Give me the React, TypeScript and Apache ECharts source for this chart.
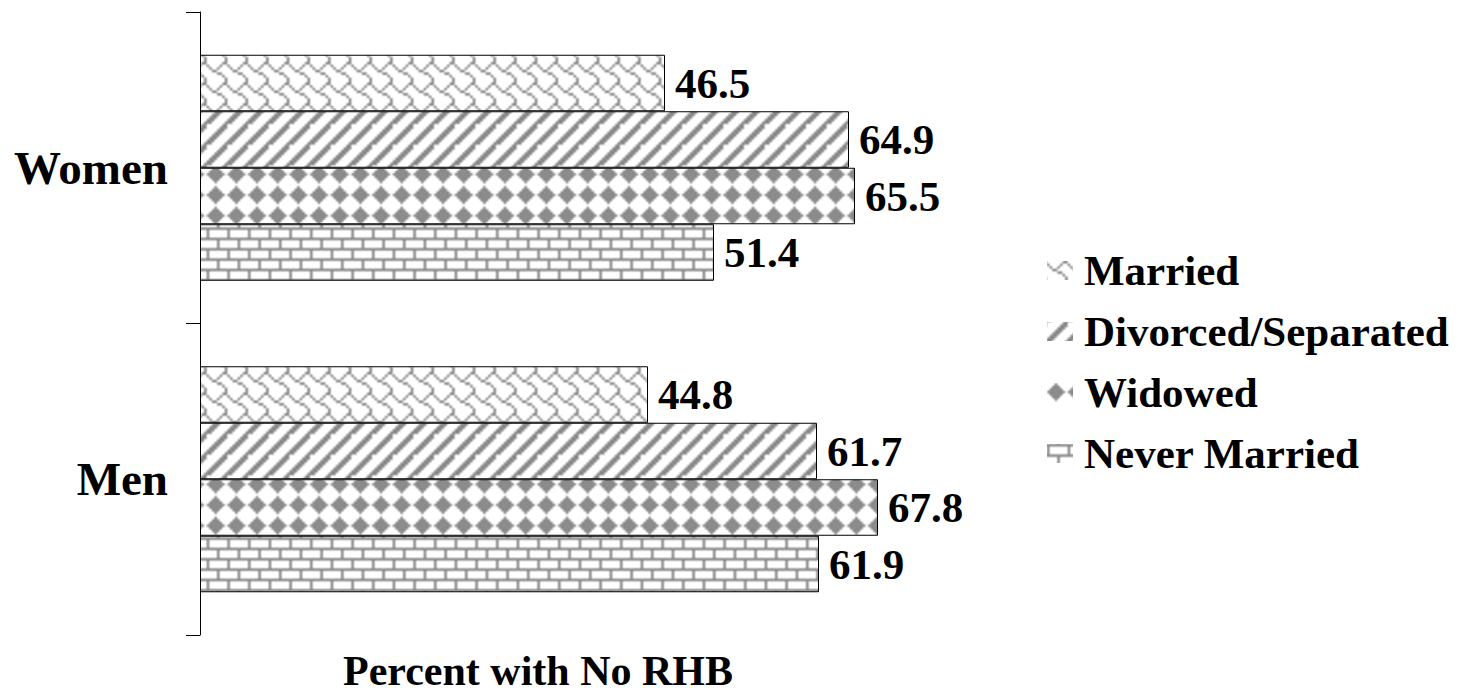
import React, { useEffect, useRef } from "react";
import * as echarts from "echarts";

const categories = ["Women", "Men"];
const seriesNames = ["Married", "Divorced/Separated", "Widowed", "Never Married"];
const married = [46.5, 44.8];
const divorced = [64.9, 61.7];
const widowed = [65.5, 67.8];
const neverMarried = [51.4, 61.9];
const seriesValues = [married, divorced, widowed, neverMarried];
const axisTitle = "Percent with No RHB";

// 8x8 hatch bitmaps (MSB = left column)
const shingleBits = [0x03, 0x84, 0x48, 0x30, 0x0c, 0x02, 0x01, 0x01];
const wideUpDiagBits = [0x03, 0x07, 0x0e, 0x1c, 0x38, 0x70, 0xe0, 0xc1];
const solidDiamondBits = [0x10, 0x38, 0x7c, 0xfe, 0x7c, 0x38, 0x10, 0x00];
const horizBrickBits = [0xff, 0x80, 0x80, 0x80, 0xff, 0x08, 0x08, 0x08];
const patternBits = [shingleBits, wideUpDiagBits, solidDiamondBits, horizBrickBits];

const FONT = "'Liberation Serif', 'Times New Roman', serif";

function makePattern(bits: number[]) {
  const n = 8;
  const src = document.createElement("canvas");
  src.width = 8 * n;
  src.height = 8 * n;
  const sctx = src.getContext("2d")!;
  sctx.fillStyle = "#ffffff";
  sctx.fillRect(0, 0, src.width, src.height);
  sctx.fillStyle = "rgb(140,140,140)";
  for (let ty = 0; ty < n; ty++) {
    for (let tx = 0; tx < n; tx++) {
      for (let r = 0; r < 8; r++) {
        for (let c = 0; c < 8; c++) {
          if (bits[r] & (0x80 >> c)) {
            sctx.fillRect(tx * 8 + c, ty * 8 + r, 1, 1);
          }
        }
      }
    }
  }
  const size = 124; // 6 tiles of ~20.67px
  const scale = size / 48;
  const out = document.createElement("canvas");
  out.width = size;
  out.height = size;
  const octx = out.getContext("2d")!;
  octx.imageSmoothingEnabled = true;
  (octx as any).imageSmoothingQuality = "high";
  octx.drawImage(src, -8 * scale, -8 * scale, src.width * scale, src.height * scale);
  return {
    image: out,
    repeat: "repeat",
    imageWidth: size,
    imageHeight: size,
  };
}

export default function App() {
  const ref = useRef<HTMLDivElement>(null);

  useEffect(() => {
    document.body.style.margin = "0";
    if (!ref.current) return;
    const chart = echarts.init(ref.current, null, { renderer: "svg" });

    const series = seriesNames.map((name, i) => ({
      name,
      type: "bar",
      data: seriesValues[i],
      barWidth: 56.5,
      barGap: "0%",
      itemStyle: {
        color: makePattern(patternBits[i]) as any,
        borderColor: "#000",
        borderWidth: 1,
      },
      label: {
        show: true,
        position: "right",
        distance: 10,
        formatter: (p: any) => Number(p.value).toFixed(1),
        fontSize: 43,
        fontWeight: "bold",
        fontFamily: FONT,
        color: "#000",
      },
    }));

    chart.setOption({
      animation: false,
      backgroundColor: "#ffffff",
      grid: { left: 200, right: 471, top: 12, bottom: 59, containLabel: false },
      xAxis: {
        type: "value",
        min: 0,
        max: 80,
        show: false,
      },
      yAxis: {
        type: "category",
        data: categories,
        inverse: true,
        axisLine: { show: true, lineStyle: { color: "#000", width: 1 } },
        axisTick: { show: true, length: 14, lineStyle: { color: "#000", width: 1 } },
        axisLabel: {
          margin: 32,
          fontSize: 47,
          fontWeight: "bold",
          fontFamily: FONT,
          color: "#000",
        },
        splitLine: { show: false },
      },
      legend: {
        orient: "vertical",
        left: 1042,
        top: 244,
        itemWidth: 26,
        itemHeight: 19,
        itemGap: 18,
        icon: "rect",
        itemStyle: { borderWidth: 0 },
        textStyle: {
          fontSize: 43,
          fontWeight: "bold",
          fontFamily: FONT,
          color: "#000",
          lineHeight: 43,
          padding: [0, 0, 0, 6],
        },
        data: seriesNames,
      },
      graphic: [
        {
          type: "text",
          x: 538,
          y: 671,
          style: {
            text: axisTitle,
            x: 0,
            y: 0,
            align: "center",
            verticalAlign: "middle",
            lineHeight: 42,
            fontSize: 42,
            fontWeight: "bold",
            fontFamily: FONT,
            fill: "#000",
          },
        },
      ],
      series,
    } as any);

    return () => chart.dispose();
  }, []);

  return <div ref={ref} style={{ width: 1471, height: 694 }} />;
}
